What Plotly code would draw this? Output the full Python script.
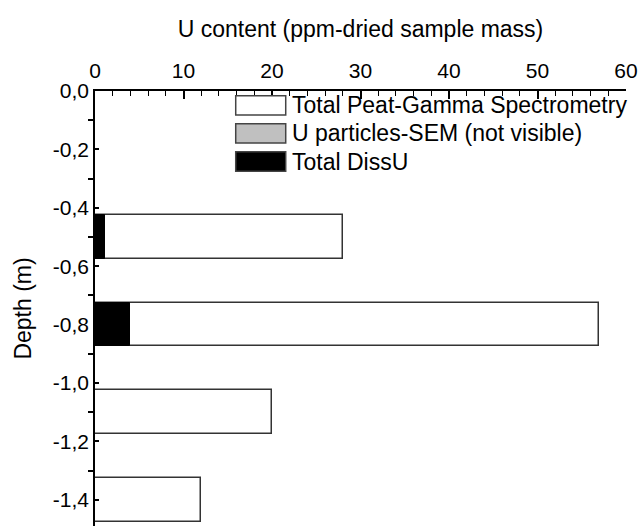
import plotly.graph_objects as go

depth = [-0.5, -0.8, -1.1, -1.4]
total_peat = [28.0, 57.0, 20.0, 12.0]
u_particles = [0, 0, 0, 0]
diss_u = [1.1, 3.9, 0, 0]

legend_names = ["Total Peat-Gamma Spectrometry", "U particles-SEM (not visible)", "Total DissU"]
legend_colors = ["white", "#c0c0c0", "black"]

y_tickvals = [0.0, -0.2, -0.4, -0.6, -0.8, -1.0, -1.2, -1.4]
y_ticktext = ["0,0", "-0,2", "-0,4", "-0,6", "-0,8", "-1,0", "-1,2", "-1,4"]
x_tickvals = [0, 10, 20, 30, 40, 50, 60]

FONT = "Liberation Sans, Arial, sans-serif"

fig = go.Figure()
fig.add_trace(go.Bar(y=depth, x=total_peat, orientation="h", width=0.15,
                     name=legend_names[0], marker=dict(color="white", line=dict(color="#333333", width=1.5)),
                     showlegend=False))
fig.add_trace(go.Bar(y=depth, x=u_particles, orientation="h", width=0.15,
                     name=legend_names[1], marker=dict(color="#c0c0c0", line=dict(color="#333333", width=0)),
                     showlegend=False))
fig.add_trace(go.Bar(y=depth, x=diss_u, orientation="h", width=0.15,
                     name=legend_names[2], marker=dict(color="black", line=dict(color="black", width=1)),
                     showlegend=False))

# manual legend (data coordinates)
box_x0, box_x1 = 15.9, 21.55
rows_y = [-0.0495, -0.1455, -0.2415]
box_h = 0.066
for name, col, yc in zip(legend_names, legend_colors, rows_y):
    fig.add_shape(type="rect", xref="x", yref="y", x0=box_x0, x1=box_x1,
                  y0=yc - box_h / 2, y1=yc + box_h / 2,
                  fillcolor=col, line=dict(color="#444444", width=1.5))
    fig.add_annotation(x=22.0, y=yc, xref="x", yref="y", text=name, showarrow=False,
                       xanchor="left", yanchor="middle", font=dict(size=23, color="black", family=FONT))

fig.update_layout(
    width=640, height=528,
    margin=dict(l=95, r=14, t=91, b=2),
    paper_bgcolor="white", plot_bgcolor="white",
    barmode="overlay", bargap=0,
    font=dict(family=FONT, size=21, color="black"),
    showlegend=False,
)
fig.update_xaxes(side="top", range=[0, 60], tickvals=x_tickvals, ticks="inside", ticklen=8, tickwidth=1.5,
                 tickcolor="black", showline=True, linecolor="black", linewidth=1.5, showgrid=False, zeroline=False,
                 automargin=False, ticklabelstandoff=3,
                 tickfont=dict(size=21), title=dict(text="U content (ppm-dried sample mass)", font=dict(size=23)),
                 minor=dict(dtick=2, ticks="inside", ticklen=5, tickwidth=1.2, tickcolor="black"))
fig.update_yaxes(range=[-1.49, 0], tickvals=y_tickvals, ticktext=y_ticktext, ticks="inside", ticklen=4, tickwidth=1.5,
                 tickcolor="black", showline=True, linecolor="black", linewidth=1.5, showgrid=False, zeroline=False,
                 automargin=False,
                 tickfont=dict(size=21), title=dict(text="Depth (m)", font=dict(size=23)),
                 minor=dict(tickvals=[-0.1, -0.3, -0.5, -0.7, -0.9, -1.1, -1.3], ticks="outside", ticklen=5,
                            tickwidth=1.5, tickcolor="black"))

fig.write_html("out.html", config={"displayModeBar": False},
               post_script="document.body.style.margin='0';document.body.style.overflow='hidden';")
